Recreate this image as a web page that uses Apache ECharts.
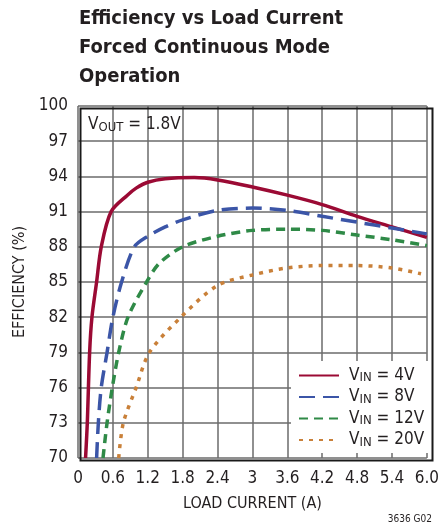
<!DOCTYPE html>
<html>
<head>
<meta charset="utf-8">
<script src="https://cdn.jsdelivr.net/npm/echarts@6/dist/echarts.min.js"></script>
<style>
  html, body { margin: 0; padding: 0; background: #fff; }
  #chart { width: 442px; height: 531px; }
</style>
</head>
<body>
<div id="chart"></div>
<script>
// load current (A), efficiency (%)
const vin4 = [[0.13, 70], [0.16, 73], [0.2, 79], [0.24, 82], [0.32, 85], [0.4, 88], [0.57, 91], [0.85, 92.4],
  [1.0, 93.0], [1.2, 93.5], [1.5, 93.8], [2.0, 93.9], [2.4, 93.7], [3.0, 93.1], [3.6, 92.4], [4.2, 91.6],
  [4.8, 90.6], [5.4, 89.7], [6.0, 88.8]]
const vin8 = [[0.32, 70], [0.35, 73], [0.4, 76], [0.5, 79], [0.6, 82], [0.75, 85], [0.97, 88], [1.2, 88.9],
  [1.5, 89.7], [1.8, 90.3], [2.4, 91.1], [3.0, 91.3], [3.6, 91.1], [4.2, 90.6], [4.8, 90.1], [5.4, 89.6],
  [6.0, 89.1]]
const vin12 = [[0.43, 70], [0.5, 73], [0.59, 76], [0.7, 79], [0.86, 82], [1.18, 85], [1.4, 86.6], [1.8, 88.0],
  [2.4, 88.9], [3.0, 89.4], [3.6, 89.5], [4.2, 89.4], [4.8, 89.0], [5.4, 88.6], [6.0, 88.1]]
const vin20 = [[0.7, 70], [0.78, 73], [1.0, 76], [1.23, 79], [1.77, 82], [2.4, 84.7], [3.0, 85.6], [3.6, 86.2],
  [4.2, 86.4], [4.8, 86.4], [5.4, 86.2], [5.9, 85.7]]

const seriesNames = ['4V', '8V', '12V', '20V']
const xTickLabels = ['0', '0.6', '1.2', '1.8', '2.4', '3', '3.6', '4.2', '4.8', '5.4', '6.0']

const FONT = "'Liberation Sans Narrow', 'DejaVu Sans Condensed', 'Liberation Sans', sans-serif"
const INK = '#231f20'

const chart = echarts.init(document.getElementById('chart'))

const mkLine = (name, data, color, type, width) => ({
  name,
  type: 'line',
  data,
  smooth: 0.3,
  symbol: 'none',
  clip: true,
  lineStyle: { color, width, type },
  itemStyle: { color }
})

chart.setOption({
  animation: false,
  title: {
    text: 'Efficiency vs Load Current\nForced Continuous Mode\nOperation',
    left: 79,
    top: 4,
    padding: 0,
    textStyle: {
      fontFamily: FONT,
      fontWeight: 'bold',
      fontSize: 20,
      lineHeight: 29,
      color: INK
    }
  },
  grid: { left: 78, right: 12, top: 106, bottom: 73 },
  xAxis: {
    type: 'value',
    min: 0,
    max: 6,
    interval: 0.6,
    name: 'LOAD CURRENT (A)',
    nameLocation: 'middle',
    nameGap: 38,
    nameTextStyle: { fontFamily: FONT, fontSize: 16, color: INK },
    axisLine: { show: false },
    axisTick: { show: false },
    axisLabel: {
      fontFamily: FONT, fontSize: 17, color: INK, margin: 12,
      formatter: v => xTickLabels[Math.round(v / 0.6)]
    },
    splitLine: { lineStyle: { color: '#6b6b6b', width: 1.5 } }
  },
  yAxis: {
    type: 'value',
    min: 70,
    max: 100,
    interval: 3,
    name: 'EFFICIENCY (%)',
    nameLocation: 'middle',
    nameGap: 49,
    nameTextStyle: { fontFamily: FONT, fontSize: 16, color: INK },
    axisLine: { show: false },
    axisTick: { show: false },
    axisLabel: { fontFamily: FONT, fontSize: 17, color: INK, margin: 10 },
    splitLine: { lineStyle: { color: '#6b6b6b', width: 1.5 } }
  },
  legend: {
    left: 291,
    top: 361,
    orient: 'vertical',
    itemWidth: 40,
    itemHeight: 12,
    itemGap: 4,
    padding: [6, 8, 4, 7],
    backgroundColor: '#fff',
    itemStyle: { opacity: 0 },
    data: seriesNames,
    formatter: n => '{a|V}{b|IN}{c| = ' + n + '}',
    textStyle: {
      fontFamily: FONT,
      color: INK,
      rich: {
        a: { fontFamily: FONT, fontSize: 17, color: INK, padding: [0, 0, 0, 5] },
        b: { fontFamily: FONT, fontSize: 13, color: INK, padding: [5, 0, 0, 0] },
        c: { fontFamily: FONT, fontSize: 17, color: INK }
      }
    }
  },
  graphic: [
    {
      type: 'rect',
      left: 78, top: 106,
      shape: { width: 352, height: 352 },
      style: { fill: 'none', stroke: '#1a1a1a', lineWidth: 2 },
      z: 10
    },
    {
      type: 'text',
      left: 88, top: 116,
      style: {
        text: '{a|V}{b|OUT}{a| = 1.8V}',
        rich: {
          a: { fontFamily: FONT, fontSize: 17, fill: INK },
          b: { fontFamily: FONT, fontSize: 13, fill: INK, padding: [7, 0, 0, 0] }
        }
      },
      z: 10
    },
    {
      type: 'text',
      right: 10, top: 514,
      style: { text: '3636 G02', fontFamily: FONT, fontSize: 10, fill: INK }
    }
  ],
  series: [
    mkLine('4V', vin4, '#9b0a34', 'solid', 3.5),
    mkLine('8V', vin8, '#3b55a7', [16, 8], 3.5),
    mkLine('12V', vin12, '#2f8a47', [9, 6], 3.5),
    mkLine('20V', vin20, '#c98039', [4, 6], 3.5)
  ]
})
</script>
</body>
</html>
